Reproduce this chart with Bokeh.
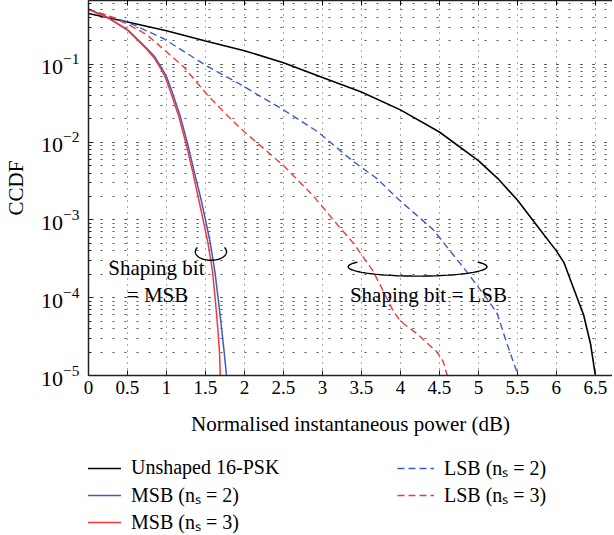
import numpy as np
from bokeh.plotting import figure
from bokeh.layouts import column
from bokeh.models import (Range1d, LinearAxis, FixedTicker, Legend, LegendItem)
from bokeh.core.properties import value
from bokeh.embed import file_html
from bokeh.resources import INLINE

# ---------------- data ----------------
x_ticks = [0, 0.5, 1, 1.5, 2, 2.5, 3, 3.5, 4, 4.5, 5, 5.5, 6, 6.5]
x_tick_labels = ["0", "0.5", "1", "1.5", "2", "2.5", "3", "3.5", "4", "4.5",
                 "5", "5.5", "6", "6.5"]

unshaped_x = [0, 0.5, 1.0, 1.5, 2.0, 2.5, 3.0, 3.5, 4.0, 4.5, 5.0, 5.25, 5.5,
              5.75, 6.0, 6.1, 6.2, 6.35, 6.44, 6.5]
unshaped_y = [0.45, 0.35, 0.27, 0.20, 0.15, 0.105, 0.068, 0.044, 0.026, 0.0135,
              0.0058, 0.0034, 0.0018, 8.5e-4, 4e-4, 2.8e-4, 1.5e-4, 6e-5, 2.5e-5, 1e-5]

msb2_x = [0, 0.25, 0.5, 0.75, 0.85, 0.93, 1.0, 1.07, 1.18, 1.28, 1.36, 1.44,
          1.50, 1.56, 1.62, 1.67, 1.71, 1.74, 1.77]
msb2_y = [0.51, 0.40, 0.28, 0.16, 0.125, 0.093, 0.07, 0.045, 0.021, 0.0088,
          0.004, 0.0019, 1e-3, 5.2e-4, 2.2e-4, 8.5e-5, 3.8e-5, 2e-5, 1e-5]

msb3_x = [0, 0.25, 0.5, 0.75, 0.84, 0.92, 0.98, 1.05, 1.16, 1.26, 1.34, 1.41,
          1.47, 1.53, 1.59, 1.63, 1.66, 1.68, 1.69]
msb3_y = [0.51, 0.395, 0.275, 0.155, 0.122, 0.09, 0.07, 0.045, 0.021, 0.0088,
          0.004, 0.0019, 1e-3, 5.2e-4, 2.2e-4, 8.5e-5, 3.8e-5, 2e-5, 1e-5]

lsb2_x = [0, 0.5, 0.96, 1.52, 1.91, 2.5, 2.93, 3.4, 3.7, 3.96, 4.42, 4.86,
          5.1, 5.24, 5.37, 5.51]
lsb2_y = [0.51, 0.35, 0.215, 0.095, 0.058, 0.026, 0.0138, 0.0056, 0.0034,
          0.0019, 7.5e-4, 2.1e-4, 1.0e-4, 6.3e-5, 2.5e-5, 1e-5]

lsb3_x = [0, 0.25, 0.5, 0.75, 1.0, 1.22, 1.52, 1.78, 1.99, 2.5, 2.89, 3.14,
          3.4, 3.65, 3.91, 4.0, 4.22, 4.47, 4.55, 4.6]
lsb3_y = [0.51, 0.42, 0.33, 0.24, 0.145, 0.093, 0.041, 0.022, 0.0138, 0.005,
          0.002, 1e-3, 5e-4, 2.2e-4, 6.7e-5, 5e-5, 3.4e-5, 2e-5, 1.5e-5, 1e-5]

series_labels = ["Unshaped 16-PSK", "MSB (nₛ = 2)", "MSB (nₛ = 3)",
                 "LSB (nₛ = 2)", "LSB (nₛ = 3)"]

# annotations: (centre x, centre y, half-width in x, half-height in decades)
msb_ring = (1.57, 3.9e-4, 0.20, 0.11)
lsb_ring = (4.22, 2.5e-4, 0.89, 0.12)
ann_texts = ["Shaping bit", "= MSB", "Shaping bit = LSB"]
ann_x = [0.87, 0.885, 4.36]
ann_y = [2.4e-4, 1.07e-4, 1.07e-4]

SERIF = "Liberation Serif"
BLUE = "#3b5cc4"
RED = "#f03a3a"
styles = [dict(line_color="black", line_width=1.6),
          dict(line_color=BLUE, line_width=1.5),
          dict(line_color=RED, line_width=1.5),
          dict(line_color=BLUE, line_width=1.4, line_dash="7 4"),
          dict(line_color=RED, line_width=1.4, line_dash="7 4")]

p = figure(width=612, height=455, y_axis_type="log",
           x_range=Range1d(0, 6.72), y_range=Range1d(1e-5, 0.662),
           output_backend="svg", toolbar_location=None,
           min_border_left=88, min_border_right=0, min_border_top=0,
           min_border_bottom=80)
p.outline_line_color = None

# grids
p.xgrid.ticker = FixedTicker(ticks=x_ticks)
p.xgrid.grid_line_color = "#555555"
p.xgrid.grid_line_dash = "1 5"
p.ygrid.grid_line_color = "#555555"
p.ygrid.grid_line_dash = "2 10"
p.ygrid.minor_grid_line_color = "#555555"
p.ygrid.minor_grid_line_dash = "2 10"

# bottom axis
xa = p.xaxis[0]
xa.ticker = FixedTicker(ticks=x_ticks)
xa.major_label_overrides = {t: l for t, l in zip(x_ticks, x_tick_labels)}
xa.axis_label = "Normalised instantaneous power (dB)"
xa.major_tick_in = 5
xa.major_tick_out = 0
xa.minor_tick_in = 0
xa.minor_tick_out = 0
xa.axis_line_width = 1.5
xa.axis_line_color = "#222222"
xa.major_tick_line_color = "#222222"
xa.major_label_text_font = SERIF
xa.major_label_text_font_size = "19px"
xa.major_label_text_color = "black"
xa.axis_label_text_font = SERIF
xa.axis_label_text_font_size = "21px"
xa.axis_label_text_font_style = "normal"
xa.axis_label_text_color = "black"
xa.major_label_standoff = 5
xa.axis_label_standoff = 15

# left axis
ya = p.yaxis[0]
ya.axis_label = "CCDF"
ya.major_tick_in = 5
ya.major_tick_out = 0
ya.minor_tick_in = 3
ya.minor_tick_out = 0
ya.axis_line_width = 1.5
ya.axis_line_color = "#222222"
ya.major_tick_line_color = "#222222"
ya.minor_tick_line_color = "#222222"
ya.major_label_text_font = SERIF
ya.major_label_text_font_size = "22px"
ya.major_label_text_color = "black"
ya.major_label_standoff = 9
ya.axis_label_text_font = SERIF
ya.axis_label_text_font_size = "21px"
ya.axis_label_text_font_style = "normal"
ya.axis_label_text_color = "black"
ya.axis_label_standoff = 10

# top border axis (ticks only)
top = LinearAxis(ticker=FixedTicker(ticks=x_ticks), major_tick_in=5,
                 major_tick_out=0, minor_tick_in=0, minor_tick_out=0,
                 major_label_text_font_size="1px", major_label_text_alpha=0,
                 major_label_standoff=0,
                 axis_line_width=1.5, axis_line_color="#222222")
p.add_layout(top, "above")

# curves
for xs, ys, st in zip([unshaped_x, msb2_x, msb3_x, lsb2_x, lsb3_x],
                      [unshaped_y, msb2_y, msb3_y, lsb2_y, lsb3_y], styles):
    p.line(xs, ys, **st)

# annotation rings (open-top ellipses)
t = np.radians(np.linspace(150, 390, 80))
for cx, cy, ax_, ay_ in (msb_ring, lsb_ring):
    ex = cx + ax_ * np.cos(t)
    ey = 10 ** (np.log10(cy) + ay_ * np.sin(t))
    p.line(ex, ey, line_color="black", line_width=1.4)

p.text(x=ann_x, y=ann_y, text=ann_texts, text_font=value(SERIF),
       text_font_size="21px", text_align="center", text_baseline="middle",
       text_color="black")

# ---------------- legend strip below ----------------
q = figure(width=612, height=78, output_backend="svg", toolbar_location=None,
           min_border_left=78, min_border_right=0, min_border_top=0,
           min_border_bottom=0, x_axis_location=None, y_axis_location=None)
q.outline_line_color = None
q.xgrid.visible = False
q.ygrid.visible = False
items = []
for lab, st in zip(series_labels, styles):
    r = q.line([0], [0], **st)
    items.append(LegendItem(label=lab, renderers=[r]))
legend = Legend(items=items, orientation="vertical", nrows=3,
                location=(-4, -2))
legend.margin = 0
legend.padding = 0
legend.spacing = 0
legend.glyph_width = 37
legend.glyph_height = 20
legend.label_standoff = 10
legend.label_width = 266
legend.label_height = 21
legend.label_text_font = SERIF
legend.label_text_font_size = "20px"
legend.label_text_color = "black"
legend.border_line_color = None
legend.background_fill_alpha = 0
q.add_layout(legend, "center")

open("out.html", "w").write(file_html(column(p, q, spacing=0), INLINE))
